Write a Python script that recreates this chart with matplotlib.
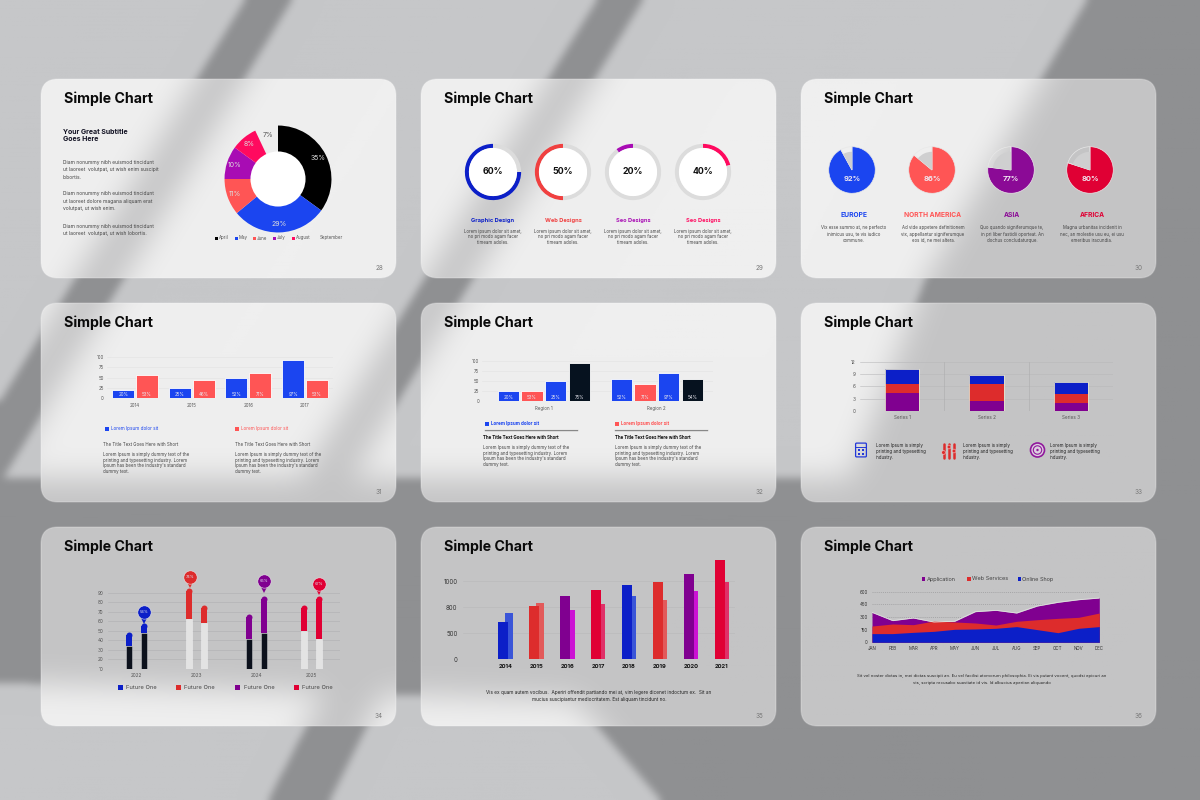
import numpy as np
import matplotlib
matplotlib.use("Agg")
import matplotlib.pyplot as plt
from matplotlib.patches import FancyBboxPatch, Circle, Rectangle
from matplotlib.path import Path
from matplotlib.transforms import offset_copy

plt.rcParams['font.family'] = ['Inter', 'DejaVu Sans']

W, H = 1200, 800
BLUE = '#1b45f0'
CORAL = '#ff5555'
MAGENTA = '#a80cb4'
PINK = '#ff0a5f'
DBLUE = '#0c1fc8'
RED = '#dd2c2c'
PURPLE = '#800090'
CRIMSON = '#e00034'
NAVY = '#06121f'

# slide 28
donut_values = [35, 29, 11, 10, 8, 7]
donut_months = ['April', 'May', 'June', 'July', 'August', 'September']
# slide 29 (the arcs are not drawn to the printed figures)
ring_labels = [60, 50, 20, 40]
ring_fill = [75, 50, 10, 21]
ring_names = ['Graphic Design', 'Web Designs', 'Seo Designs', 'Seo Designs']
# slide 30
pie_values = [92, 86, 77, 80]
pie_names = ['EUROPE', 'NORTH AMERICA', 'ASIA', 'AFRICA']
# slide 31
years31 = ['2014', '2015', '2016', '2017']
bars31_blue = [20, 25, 50, 94]
bars31_coral = [55, 43, 60, 45]
labels31_blue = ['20%', '25%', '52%', '97%']
labels31_coral = ['53%', '46%', '71%', '53%']
# slide 32
regions32 = ['Region 1', 'Region 2']
bars32 = [[25, 55], [25, 43], [52, 70], [95, 57]]
labels32 = [['20%', '52%'], ['53%', '71%'], ['25%', '97%'], ['75%', '54%']]
# slide 33
series33 = ['Series 1', 'Series 2', 'Series 3']
stack33_purple = [4.3, 2.4, 2.0]
stack33_red = [2.4, 4.3, 2.0]
stack33_blue = [3.6, 2.0, 3.0]
# slide 34
years34 = ['2022', '2023', '2024', '2025']
group34_pos = [0, 1, 2, 2.92]
left34_low = [34, 62, 41.5, 49.5]
left34_top = [48.5, 95, 67, 77]
right34_low = [48, 58, 48, 41]
right34_top = [58, 77, 86, 86]
pin34_text = ['54%', '74%', '65%', '67%']
# slide 35
years35 = ['2014', '2015', '2016', '2017', '2018', '2019', '2020', '2021']
front35 = [479, 679, 808, 889, 957, 996, 1094, 1278]
back35 = [598, 722, 637, 714, 808, 765, 880, 996]
# slide 36
months36 = ['JAN', 'FEB', 'MAR', 'APR', 'MAY', 'JUN', 'JUL', 'AUG', 'SEP', 'OCT', 'NOV', 'DEC']
app36 = [355, 257, 288, 240, 249, 363, 379, 347, 430, 474, 505, 525]
web36 = [193, 217, 209, 253, 241, 229, 205, 249, 268, 284, 296, 347]
shop36 = [103, 103, 118, 130, 154, 158, 166, 186, 150, 114, 166, 186]


def blur(a, sigma):
    p = 40
    b = np.pad(a, p, mode='edge')
    fy = np.fft.fftfreq(b.shape[0])[:, None]
    fx = np.fft.rfftfreq(b.shape[1])[None, :]
    g = np.exp(-2 * (np.pi * sigma) ** 2 * (fx ** 2 + fy ** 2))
    return np.fft.irfft2(np.fft.rfft2(b) * g, s=b.shape)[p:-p, p:-p]


# window shadows falling across the whole picture
shadow_polys = [
    [(245, 0), (292, 0), (-10, 500), (-60, 500)],
    [(597, 0), (643, 0), (350, 480), (300, 480)],
    [(1087, 0), (1240, 0), (1240, 480), (850, 478), (925, 280)],
    [(-20, 478), (1240, 478), (1240, 820), (678, 820), (575, 700), (-20, 682)],
    [(325, 690), (385, 690), (320, 820), (258, 820)],
]
yy, xx = np.mgrid[0:H, 0:W]
pts = np.column_stack([xx.ravel() + 0.5, yy.ravel() + 0.5])
mask = np.zeros((H, W))
for poly in shadow_polys:
    mask = np.maximum(mask, Path(poly).contains_points(pts).reshape(H, W).astype(float))

bg_lit, bg_dark = np.array([198, 199, 201.]), np.array([143, 144, 146.])
card_lit, card_dark = np.array([239, 239, 239.]), np.array([196, 196, 197.])
s_bg = blur(mask, 4)[..., None]
s_card = blur(mask, 15)[..., None]
bg_img = (bg_lit + (bg_dark - bg_lit) * s_bg) / 255
card_img = (card_lit + (card_dark - card_lit) * s_card) / 255

fig = plt.figure(figsize=(12, 8), dpi=100)
base = fig.add_axes([0, 0, 1, 1])
base.set_xlim(0, W)
base.set_ylim(H, 0)
base.axis('off')
base.imshow(bg_img, extent=(0, W, H, 0), aspect='auto', zorder=0)

card_x = [41, 421, 801]
card_y = [79, 303, 527]
cw, ch = 355, 199
page = 28
for cy in card_y:
    for cx in card_x:
        r = 17
        patch = FancyBboxPatch((cx + r, cy + r), cw - 2 * r, ch - 2 * r, boxstyle='round,pad=%d,rounding_size=%d' % (r, r),
                               fc='none', ec=(1, 1, 1, 0.22), lw=1, zorder=2)
        base.add_patch(patch)
        im = base.imshow(card_img, extent=(0, W, H, 0), aspect='auto', zorder=1)
        im.set_clip_path(patch)
        base.text(cx + 23, cy + 19.7, 'Simple Chart', fontsize=10.2, fontweight='bold', color='#0a0a0a', va='center', zorder=3)
        base.text(cx + 338, cy + 188.5, str(page), fontsize=4.6, color='#777777', ha='center', va='center', zorder=3)
        page += 1
base.set_xlim(0, W)
base.set_ylim(H, 0)


def txt(x, y, lines, size=3.55, color='#444444', weight='normal', ha='left', pitch=5.6):
    if isinstance(lines, str):
        lines = [lines]
    for i, line in enumerate(lines):
        base.text(x, y + i * pitch, line, fontsize=size, color=color, fontweight=weight, ha=ha, va='center', zorder=4)


def inset(x0, y0, x1, y1):
    ax = fig.add_axes([x0 / W, 1 - y1 / H, (x1 - x0) / W, (y1 - y0) / H])
    ax.patch.set_alpha(0)
    for sp in ax.spines.values():
        sp.set_visible(False)
    ax.tick_params(length=0, labelsize=3.2, labelcolor='#555555', pad=2)
    return ax


def disc_axes(cx, cy, r):
    ax = inset(cx - r, cy - r, cx + r, cy + r)
    ax.set_xlim(-1, 1)
    ax.set_ylim(-1, 1)
    ax.axis('off')
    return ax


# slide 28 donut
ax = disc_axes(278, 179, 54)
wedges, _, autotexts = ax.pie(donut_values, colors=['black', BLUE, CORAL, MAGENTA, PINK, 'none'], startangle=90,
                              counterclock=False, radius=0.99, autopct='%d%%', pctdistance=0.85,
                              wedgeprops=dict(width=0.6), textprops=dict(fontsize=5, color='#dddddd'))
autotexts[-1].set_color('#555555')
ax.add_patch(Circle((0, 0), 0.51, fc='white', ec='none'))
ax.set_xlim(-1, 1)
ax.set_ylim(-1, 1)
txt(63, 131.7, ['Your Great Subtitle', 'Goes Here'], size=5, color='#111122', weight='bold', pitch=7.6)
txt(63, 162.3, ['Diam nonummy nibh euismod tincidunt', 'ut laoreet  volutpat, ut wish enim suscipit', 'lobortis.'], pitch=7.4)
txt(63, 194, ['Diam nonummy nibh euismod tincidunt', 'ut laoreet dolore magana aliquam erat', 'volutpat, ut wish enim.'], pitch=7.4)
txt(63, 226.3, ['Diam nonummy nibh euismod tincidunt', 'ut laoreet  volutpat, ut wish lobortis.'], pitch=7.6)
leg_x = [216, 236, 254, 274, 293]
for x, c, m in zip(leg_x, ['black', BLUE, CORAL, MAGENTA, PINK], donut_months):
    base.add_patch(Rectangle((x - 1.5, 236.5), 3, 3, fc=c, ec='none', zorder=4))
    txt(x + 3, 238, m, size=3.2, color='#555555')
txt(320, 238, donut_months[5], size=3.2, color='#555555')

# slide 29 rings
ring_x = [493, 563, 633, 703]
ring_col = [DBLUE, '#f04040', MAGENTA, PINK]
ring_ccw = [True, True, True, False]
for i, cx in enumerate(ring_x):
    ax = disc_axes(cx, 172, 29)
    ax.pie([ring_fill[i], 100 - ring_fill[i]], colors=[ring_col[i], '#dcdcdc'], startangle=90,
           counterclock=ring_ccw[i], radius=0.97, wedgeprops=dict(width=0.14))
    ax.add_patch(Circle((0, 0), 0.83, fc='white', ec='none'))
    ax.set_xlim(-1, 1)
    ax.set_ylim(-1, 1)
    ax.text(0, 0, '%d%%' % ring_labels[i], fontsize=6.4, fontweight='bold', color='#111111', ha='center', va='center')
    txt(cx, 220.7, ring_names[i], size=4.1, color=ring_col[i], weight='bold', ha='center')
    txt(cx, 231.3, ['Lorem ipsum dolor sit amet,', 'no pri modo agam facer', 'timeam adoles.'], size=3.1, ha='center', pitch=5.6)

# slide 30 pies
pie_x = [852, 932, 1011, 1090]
pie_col = [BLUE, CORAL, '#8b0a96', CRIMSON]
pie_head_x = [853.7, 933, 1012, 1092]
pie_text = [['Vix esse summo at, ne perfecto', 'inimicus usu, te vis iudico', 'commune.'],
            ['Ad vide appetere definitionem', 'vix, appellantur signiferumque', 'eos id, ne mei altera.'],
            ['Quo quando signiferumque te,', 'in pri liber fastidii oporteat. An', 'dochus concludaturque.'],
            ['Magna urbanitas incidenit in', 'nec, an molestie usu eu, ei usu', 'emeribus iracundia.']]
for i, cx in enumerate(pie_x):
    ax = disc_axes(cx, 170, 24)
    ax.pie([pie_values[i], 100 - pie_values[i]], colors=[pie_col[i], 'none'], startangle=90, counterclock=False,
           radius=0.97, wedgeprops=dict(ec='#e8e8e8', lw=0.5))
    ax.pie([pie_values[i], 100 - pie_values[i]], colors=['none', '#cfcfd0'], startangle=90, counterclock=False, radius=0.76)
    ax.set_xlim(-1, 1)
    ax.set_ylim(-1, 1)
    ax.text(0, -0.38, '%d%%' % pie_values[i], fontsize=5.4, fontweight='bold', color='#f0e8f0', ha='center', va='center')
    txt(pie_head_x[i], 215, pie_names[i], size=4.8, color=pie_col[i], weight='bold', ha='center')
    txt(pie_head_x[i], 227.7, pie_text[i], size=3.1, ha='center', pitch=6.6)

# slide 31 grouped bars
ax = inset(106.7, 357.3, 333.3, 397.7)
x = np.arange(4)
ax.set_xlim(-0.5, 3.5)
ax.set_ylim(0, 100)
ax.yaxis.grid(True, color='#e2e2e2', lw=0.4)
ax.set_axisbelow(True)
b1 = ax.bar(x - 0.21, bars31_blue, 0.39, color=BLUE, ec='white', lw=0.6)
b2 = ax.bar(x + 0.21, bars31_coral, 0.39, color=CORAL, ec='white', lw=0.6)
for bars, labs in ((b1, labels31_blue), (b2, labels31_coral)):
    for b, lab in zip(bars, labs):
        ax.text(b.get_x() + b.get_width() / 2, 9, lab, fontsize=3.2, color='#e8e8f0', ha='center', va='center')
ax.set_xticks(x, years31)
ax.set_yticks([0, 25, 50, 75, 100])
ax.tick_params(axis='x', pad=3.5)
body = ['Lorem Ipsum is simply dummy text of the', 'printing and typesetting industry. Lorem',
        'Ipsum has been the industry\'s standard', 'dummy text.']
head = 'The Title Text Goes Here with Short'
for sx, tx, c in ((105, 103, BLUE), (235, 234.7, CORAL)):
    base.add_patch(Rectangle((sx, 426.5), 4.4, 4.4, fc=c, ec='none', zorder=4))
    txt(sx + 6, 428.7, 'Lorem Ipsum dolor sit', size=3.3, color=c)
    txt(tx, 444.3, head, size=3.2)
    txt(tx, 454.7, body, size=3.2)

# slide 32 grouped bars
ax = inset(482, 361.3, 713, 401.3)
ax.set_xlim(-0.546, 1.498)
ax.set_ylim(0, 100)
ax.yaxis.grid(True, color='#e2e2e2', lw=0.4)
ax.set_axisbelow(True)
for j, (vals, labs, c) in enumerate(zip(bars32, labels32, [BLUE, CORAL, BLUE, NAVY])):
    xs = np.arange(2) + (j - 1.5) * 0.2094
    ax.bar(xs, vals, 0.189, color=c, ec='white', lw=0.6)
    for xi, lab in zip(xs, labs):
        ax.text(xi, 9, lab, fontsize=3.2, color='#e8e8f0', ha='center', va='center')
ax.set_xticks([0, 1], regions32)
ax.set_yticks([0, 25, 50, 75, 100])
ax.tick_params(axis='x', pad=3.5)
for sx, tx, c in ((485, 483.3, BLUE), (615, 614.7, CORAL)):
    base.add_patch(Rectangle((sx, 421.5), 4.4, 4.4, fc=c, ec='none', zorder=4))
    txt(sx + 6, 423.7, 'Lorem Ipsum dolor sit', size=3.3, color=c, weight='bold')
    base.plot([sx, sx + 92], [429, 429], color='white', lw=0.8, zorder=4)
    base.plot([sx, sx + 92], [430.2, 430.2], color='#888888', lw=1, zorder=4)
    txt(tx, 437.7, head, size=3.2, color='#111111', weight='bold')
    txt(tx, 447.7, body, size=3.2)

# slide 33 stacked bars
ax = inset(860, 362, 1113, 410.7)
x = np.arange(3)
ax.set_xlim(-0.5, 2.5)
ax.set_ylim(0, 12)
ax.yaxis.grid(True, color='#b8b8ba', lw=0.4)
ax.set_axisbelow(True)
bot = np.zeros(3)
for vals, c in ((stack33_purple, PURPLE), (stack33_red, RED), (stack33_blue, DBLUE)):
    ax.bar(x, vals, 0.405, bottom=bot, color=c, ec='none')
    bot = bot + np.array(vals)
ax.bar(x, bot, 0.405, fc='none', ec='#e6e2cc', lw=0.6)
for v in (0.5, 1.5):
    ax.axvline(v, color='#b0b0b2', lw=0.5)
ax.set_xticks(x, series33)
ax.set_yticks([0, 3, 6, 9, 12])
ax.tick_params(axis='both', labelsize=3.4, pad=3)
small = ['Lorem Ipsum is simply', 'printing and typesetting', 'industry.']
for tx in (876, 963, 1050):
    txt(tx, 445, small, size=3.2, color='#222222', pitch=6)
# icons
base.add_patch(FancyBboxPatch((856, 443.5), 10, 13, boxstyle='round,pad=0.4,rounding_size=1', fc='none', ec='#2438d8', lw=0.9, zorder=4))
base.plot([856, 866], [447, 447], color='#2438d8', lw=0.7, zorder=4)
for gx, gy in ((858.5, 450), (862.5, 450), (858.5, 453.5), (862.5, 453.5)):
    base.add_patch(Rectangle((gx - 1, gy - 1), 2.4, 2.4, fc='#2438d8', ec='none', zorder=4))
for sx, sy in ((943.5, 452.5), (949, 447), (954, 451)):
    base.plot([sx, sx], [444, 458], color=RED, lw=1.8, solid_capstyle='round', zorder=4)
    base.add_patch(Circle((sx, sy), 1.9, fc=RED, ec='#f0d0d0', lw=0.4, zorder=5))
base.add_patch(Circle((1037.5, 450), 7, fc='#ddd0e0', ec='#90189c', lw=1.2, zorder=4))
base.add_patch(Circle((1037.5, 450), 4.2, fc='none', ec='#90189c', lw=0.8, zorder=4))
base.add_patch(Circle((1037.5, 450), 1.2, fc='#90189c', ec='none', zorder=4))

# slide 34 capsule bars
ax = inset(108, 587, 340, 668.7)
ax.set_xlim(-0.47, 3.39)
ax.set_ylim(10, 96)
ax.yaxis.grid(True, color='#b4b4b6', lw=0.5)
ax.set_axisbelow(True)
low_col = ['#0c111c', '#e3e3e3', '#0c111c', '#e3e3e3']
top_col = [DBLUE, RED, PURPLE, CRIMSON]
bar_w = 0.1
cap = 3.1
for i, gx in enumerate(group34_pos):
    for off, low, top in ((-0.125, left34_low[i], left34_top[i]), (0.125, right34_low[i], right34_top[i])):
        ax.bar(gx + off, low - 10, bar_w, bottom=10, color=low_col[i], ec=(1, 1, 1, 0.6), lw=0.4)
        ax.bar(gx + off, top - cap - low, bar_w, bottom=low, color=top_col[i], ec='none')
        ax.plot(gx + off, top - cap, 'o', ms=4.3, color=top_col[i], mew=0)
ax.set_xticks(group34_pos, years34)
ax.set_yticks(range(10, 100, 10))
ax.tick_params(axis='both', labelsize=3.4, pad=3)
pin_x = [0.125, 0.90, 2.125, 3.045]
pin_base = [right34_top[0], left34_top[1], right34_top[2], right34_top[3]]
pin_gap = [7.7, 7.9, 11, 9.1]
for i in range(4):
    tr = offset_copy(ax.transData, fig=fig, x=0, y=pin_gap[i], units='points')
    tr2 = offset_copy(ax.transData, fig=fig, x=0, y=pin_gap[i] - 6, units='points')
    ax.plot(pin_x[i], pin_base[i], 'v', ms=4, color=top_col[i], mew=0, transform=tr2, clip_on=False, zorder=5)
    ax.plot(pin_x[i], pin_base[i], 'o', ms=9.6, color=top_col[i], mec='#e8e8e8', mew=0.4, transform=tr, clip_on=False, zorder=5)
    ax.text(pin_x[i], pin_base[i], pin34_text[i], fontsize=2.8, color='#d8d8e8', ha='center', va='center', transform=tr, clip_on=False, zorder=6)
for sx, c in zip((120, 178, 237, 296), top_col):
    base.add_patch(Rectangle((sx - 2.5, 685.2), 5, 5, fc=c, ec='none', zorder=4))
    txt(sx + 6.5, 687.7, 'Future One', size=4.1, color='#444444')

# slide 35 overlapping bars
ax = inset(463, 557.9, 735, 659.3)
ax.set_xlim(-1.365, 7.42)
ax.set_ylim(0, 1300)
ax.yaxis.grid(True, color='#b8b8ba', lw=0.4)
ax.set_axisbelow(True)
x = np.arange(8)
front_col = [DBLUE, RED, PURPLE, CRIMSON] * 2
back_col = ['#3a55d8', '#e25a5a', '#cc12d4', '#e03068'] * 2
ax.bar(x + 0.118, back35, 0.237, color=back_col, ec='none')
ax.bar(x - 0.075, front35, 0.323, color=front_col, ec='none')
ax.set_xticks(x, years35)
ax.set_yticks([0, 333, 667, 1000], ['0', '500', '800', '1000'])
ax.tick_params(axis='x', labelsize=4.2, labelcolor='#111111', pad=3.5)
ax.tick_params(axis='y', labelsize=4.4, labelcolor='#333333', pad=4)
for lab in ax.get_xticklabels():
    lab.set_fontweight('bold')
txt(599, 692.7, ['Vis ex quam autem vocibus.  Aperiri offendit partiando mei at, vim legere dicenet indoctum ex.  Sit an',
                 'mucius suscipiantur mediocritatem. Est aliquam tincidunt no.'], size=3.4, color='#222222', ha='center', pitch=7.3)

# slide 36 areas
ax = inset(872, 591.7, 1099.3, 642.3)
x = np.arange(12)
ax.set_xlim(0, 11)
ax.set_ylim(0, 600)
ax.yaxis.grid(True, color='#9a9a9c', lw=0.5, ls=(0, (1.5, 1.5)))
ax.set_axisbelow(True)
ax.fill_between(x, app36, color=PURPLE, lw=0)
ax.plot(x, app36, color='#e0e0e0', lw=0.6)
ax.fill_between(x, web36, color=RED, lw=0)
ax.fill_between(x, shop36, color=DBLUE, lw=0)
ax.set_xticks(x, months36)
ax.set_yticks([0, 150, 300, 450, 600])
ax.tick_params(axis='both', labelsize=3.2, labelcolor='#333333', pad=3)
for sx, c, lab in ((923.5, PURPLE, 'Application'), (969, RED, 'Web Services'), (1019.5, DBLUE, 'Online Shop')):
    base.add_patch(Rectangle((sx - 1.7, 577.2), 3.4, 3.4, fc=c, ec='none', zorder=4))
    txt(sx + 3, 579, lab, size=4, color='#444444')
txt(982, 676.3, ['Sit vel noster dictas in, mei dictas suscipit an. Eu vel facilisi atomorum philosophia. Ei vis putant vocent, quodsi epicuri an',
                 'vis, scripta recusabo suavitate id vis. Id albucius aperiian aliquando'], size=3.05, color='#222222', ha='center', pitch=6.5)

fig.savefig('out.png', dpi=100)
